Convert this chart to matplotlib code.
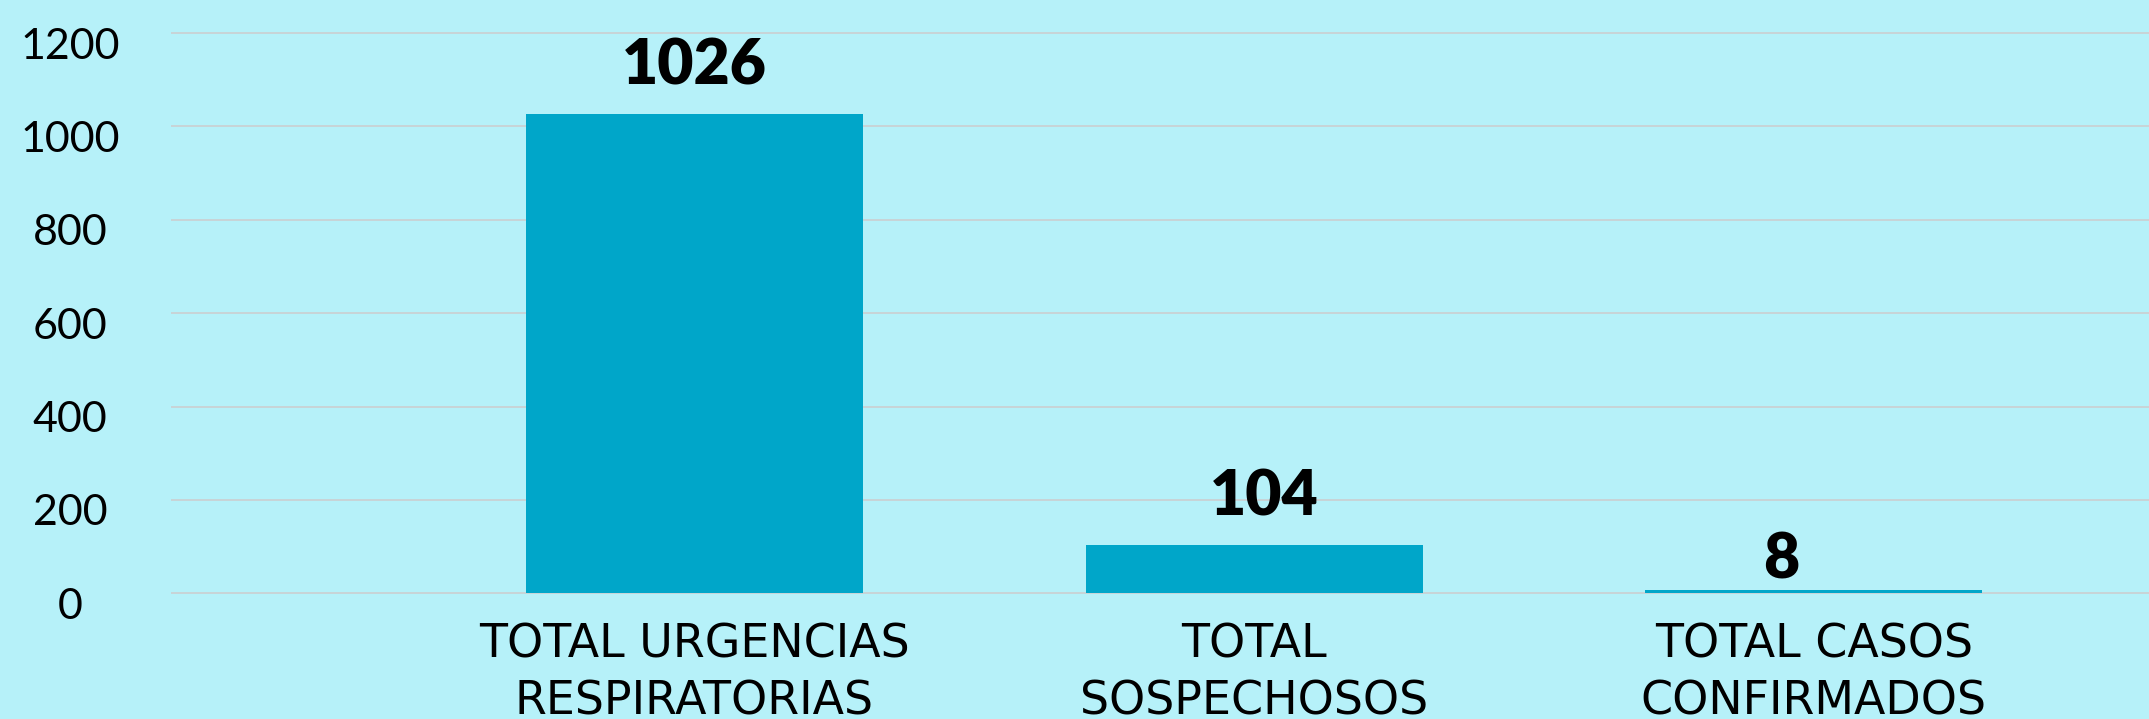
import matplotlib
matplotlib.use("Agg")
import matplotlib.pyplot as plt
import matplotlib.transforms as mtransforms

categories = ["TOTAL URGENCIAS\nRESPIRATORIAS", "TOTAL\nSOSPECHOSOS", "TOTAL CASOS\nCONFIRMADOS"]
values = [1026, 104, 8]
yticks = [0, 200, 400, 600, 800, 1000, 1200]

bg = "#b6f1f9"
bar_color = "#00a6c9"
grid_color = "#c8d4d7"

fig = plt.figure(figsize=(21.49, 7.19), dpi=100, facecolor=bg)
ax = fig.add_axes([171 / 2149, 1 - 597 / 719, 1 - 171 / 2149, 597 / 719])
ax.set_facecolor(bg)

x = list(range(len(values)))
ax.bar(x, values, width=0.602, color=bar_color, zorder=3)

# value labels above the bars (offsets in pixels, converted to points)
label_dx_px = [0, 10, -32]
label_gap_px = [30, 29, 11]
for xi, v, dx, gap in zip(x, values, label_dx_px, label_gap_px):
    ax.annotate(str(v), (xi, v), xytext=(dx * 0.72, gap * 0.72), textcoords="offset points",
                ha="center", va="baseline", fontsize=45, fontweight="heavy",
                family="Lato", color="black", zorder=4)

ax.set_xlim(-0.935, 2.599)
ax.set_ylim(-8, 1270.7)

ax.set_yticks(yticks)
ax.set_yticklabels([str(t) for t in yticks], fontsize=31, family="Lato", ha="center")
ax.tick_params(axis="y", length=0, pad=72.7)
offset = mtransforms.ScaledTranslation(0, -0.10, fig.dpi_scale_trans)
for lab in ax.get_yticklabels():
    lab.set_transform(lab.get_transform() + offset)

ax.set_xticks(x)
ax.set_xticklabels(categories, fontsize=33, family="DejaVu Sans", linespacing=1.35)
ax.tick_params(axis="x", length=0, pad=18)

ax.yaxis.grid(True, color=grid_color, linewidth=1.4, zorder=0)
ax.set_axisbelow(True)
for s in ax.spines.values():
    s.set_visible(False)

fig.savefig("out.png", dpi=100, facecolor=bg)
